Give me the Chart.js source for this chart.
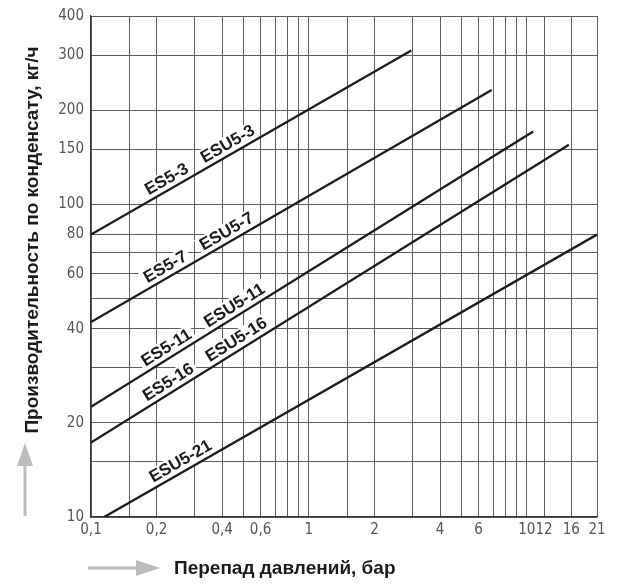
<!DOCTYPE html>
<html>
<head>
<meta charset="utf-8">
<script src="https://cdn.jsdelivr.net/npm/chart.js@4/dist/chart.umd.min.js"></script>
<style>
  html, body { margin: 0; padding: 0; background: #fff; }
  #wrap { width: 622px; height: 585px; }
</style>
</head>
<body>
<div id="wrap"><canvas id="chart"></canvas></div>
<script>
// condensate capacity vs differential pressure, log-log

var LINE_NAMES   = ['ES5-3 / ESU5-3', 'ES5-7 / ESU5-7', 'ES5-11 / ESU5-11', 'ES5-16 / ESU5-16', 'ESU5-21'];
var LINE_START_X = [0.1, 0.1, 0.1, 0.1, 0.115];
var LINE_START_Y = [80, 42, 22.5, 17.3, 10];
var LINE_END_X   = [2.95, 6.9, 10.7, 15.6, 21];
var LINE_END_Y   = [310, 232, 171, 155, 80];

var TAG_TEXT = ['ES5-3', 'ESU5-3', 'ES5-7', 'ESU5-7', 'ES5-11', 'ESU5-11', 'ES5-16', 'ESU5-16', 'ESU5-21'];
var TAG_LINE = [0, 0, 1, 1, 2, 2, 3, 3, 4];
var TAG_X    = [0.235, 0.448, 0.232, 0.443, 0.235, 0.482, 0.240, 0.492, 0.272];

var X_GRID        = [0.1, 0.15, 0.2, 0.3, 0.4, 0.5, 0.6, 0.7, 0.8, 0.9, 1, 1.5, 2, 3, 4, 5, 6, 7, 8, 9, 10, 12, 16, 21];
var X_TICK_VALUES = [0.1, 0.2, 0.4, 0.6, 1, 2, 4, 6, 10, 12, 16, 21];
var X_TICK_TEXT   = ['0,1', '0,2', '0,4', '0,6', '1', '2', '4', '6', '10', '12', '16', '21'];

var Y_GRID        = [10, 15, 20, 30, 40, 50, 60, 70, 80, 100, 150, 200, 300, 400];
var Y_TICK_VALUES = [10, 20, 40, 60, 80, 100, 150, 200, 300, 400];

var Y_TITLE = 'Производительность по конденсату, кг/ч';
var X_TITLE = 'Перепад давлений, бар';

var TICK_FONT = { family: "'Liberation Sans Narrow', 'DejaVu Sans Condensed', sans-serif", size: 15 };
var GRID_COLOR = '#5e5e5e';
var INK = '#1b1b1b';

function _tickText(values, texts, v) {
  for (var i = 0; i < values.length; i++) {
    if (Math.abs(values[i] - v) < 1e-9) return texts ? texts[i] : String(v);
  }
  return '';
}

function _yOnLine(i, x) {
  var lx1 = Math.log(LINE_START_X[i]), lx2 = Math.log(LINE_END_X[i]);
  var ly1 = Math.log(LINE_START_Y[i]), ly2 = Math.log(LINE_END_Y[i]);
  return Math.exp(ly1 + (Math.log(x) - lx1) * (ly2 - ly1) / (lx2 - lx1));
}

var datasets = LINE_NAMES.map(function(name, i) {
  return {
    label: name,
    data: [{ x: LINE_START_X[i], y: LINE_START_Y[i] }, { x: LINE_END_X[i], y: LINE_END_Y[i] }],
    borderColor: INK,
    borderWidth: 2.3,
    pointRadius: 0,
    fill: false,
  };
});

var tagPlugin = {
  id: 'tags',
  beforeDatasetsDraw: function(chart) {
    var ctx = chart.ctx, xs = chart.scales.x, ys = chart.scales.y;
    ctx.save();
    ctx.font = "bold 17px 'Liberation Sans', Arial, sans-serif";
    ctx.textAlign = 'center';
    ctx.textBaseline = 'middle';
    TAG_TEXT.forEach(function(t, k) {
      var i = TAG_LINE[k];
      var x1 = xs.getPixelForValue(LINE_START_X[i]), y1 = ys.getPixelForValue(LINE_START_Y[i]);
      var x2 = xs.getPixelForValue(LINE_END_X[i]),   y2 = ys.getPixelForValue(LINE_END_Y[i]);
      var ang = Math.atan2(y2 - y1, x2 - x1);
      var px = xs.getPixelForValue(TAG_X[k]);
      var py = ys.getPixelForValue(_yOnLine(i, TAG_X[k]));
      var w = ctx.measureText(t).width;
      ctx.save();
      ctx.translate(px, py);
      ctx.rotate(ang);
      ctx.fillStyle = '#fff';
      ctx.fillRect(-w / 2 - 3, -19, w + 6, 18);
      ctx.fillStyle = INK;
      ctx.fillText(t, 0, -10);
      ctx.restore();
    });
    ctx.restore();
  },
  afterDraw: function(chart) {
    var ctx = chart.ctx;
    ctx.save();
    // grey arrows
    ctx.fillStyle = '#bdbdbd';
    ctx.strokeStyle = '#bdbdbd';
    ctx.lineWidth = 3;
    ctx.beginPath(); ctx.moveTo(25, 516); ctx.lineTo(25, 462); ctx.stroke();
    ctx.beginPath(); ctx.moveTo(17, 466); ctx.lineTo(33, 466); ctx.lineTo(25, 443); ctx.closePath(); ctx.fill();
    ctx.beginPath(); ctx.moveTo(88, 568); ctx.lineTo(140, 568); ctx.stroke();
    ctx.beginPath(); ctx.moveTo(136, 560); ctx.lineTo(136, 576); ctx.lineTo(160, 568); ctx.closePath(); ctx.fill();

    ctx.fillStyle = INK;
    ctx.font = "bold 19px 'Liberation Sans', Arial, sans-serif";
    ctx.textBaseline = 'middle';
    ctx.textAlign = 'left';
    ctx.fillText(X_TITLE, 174, 569);
    ctx.translate(33, 240);
    ctx.rotate(-Math.PI / 2);
    ctx.textAlign = 'center';
    ctx.fillText(Y_TITLE, 0, 0);
    ctx.restore();
  },
};

new Chart(document.getElementById('chart'), {
  type: 'line',
  data: { datasets: datasets },
  options: {
    responsive: true,
    maintainAspectRatio: false,
    animation: false,
    layout: { padding: { left: 0, top: 9, right: 25, bottom: 0 } },
    plugins: { legend: { display: false }, tooltip: { enabled: false } },
    scales: {
      x: {
        type: 'logarithmic',
        min: 0.1,
        max: 21,
        afterBuildTicks: function(s) { s.ticks = X_GRID.map(function(v) { return { value: v }; }); },
        afterFit: function(s) { s.height = 68; },
        grid: { color: GRID_COLOR, lineWidth: 1, drawTicks: false },
        border: { color: '#333', width: 1.2 },
        ticks: {
          autoSkip: false,
          maxRotation: 0,
          padding: 4,
          color: '#555',
          font: TICK_FONT,
          callback: function(v) { return _tickText(X_TICK_VALUES, X_TICK_TEXT, v); },
        },
      },
      y: {
        type: 'logarithmic',
        min: 10,
        max: 400,
        afterBuildTicks: function(s) { s.ticks = Y_GRID.map(function(v) { return { value: v }; }); },
        afterFit: function(s) { s.width = 91; },
        grid: { color: GRID_COLOR, lineWidth: 1, drawTicks: false },
        border: { color: '#333', width: 1.2 },
        ticks: {
          autoSkip: false,
          padding: 7,
          color: '#555',
          font: TICK_FONT,
          callback: function(v) { return _tickText(Y_TICK_VALUES, null, v); },
        },
      },
    },
  },
  plugins: [tagPlugin],
});
</script>
</body>
</html>
